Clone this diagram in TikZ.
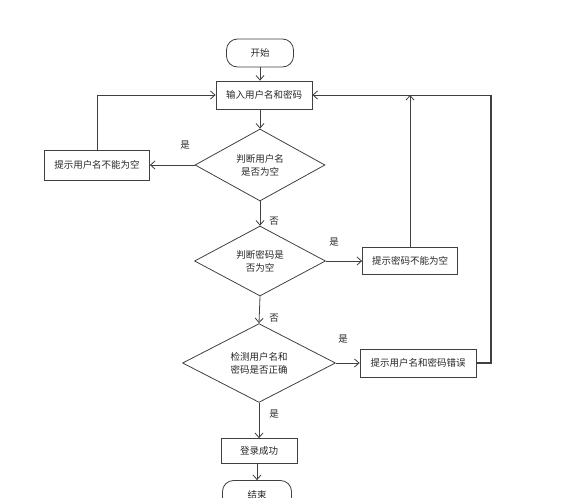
\documentclass[tikz,border=0pt]{standalone}
\usepackage{fontspec}
\setmainfont{Noto Sans CJK SC}
\usetikzlibrary{shapes.geometric,arrows.meta}
\begin{document}
\begin{tikzpicture}[x=1pt,y=-1pt,
  every node/.style={font=\fontsize{9.5}{13}\selectfont, text=black!85},
  box/.style={draw=black!75, line width=0.8pt, inner sep=0pt, align=center},
  term/.style={box, rounded corners=11pt},
  dia/.style={box, diamond},
  lbl/.style={inner sep=0pt},
  ln/.style={draw=black!75, line width=0.8pt},
  arr/.style={ln, -{Straight Barb[length=4.5pt,width=8pt]}}]
\useasboundingbox (0,0) rectangle (574,498);
\clip (0,0) rectangle (574,498);
\node[term, minimum width=67pt, minimum height=28pt] (start) at (260,53) {开始};
\node[box, minimum width=96pt, minimum height=28pt] (input) at (264,95) {输入用户名和密码};
\node[dia, minimum width=130pt, minimum height=72pt] (d1) at (260,165) {判断用户名\\是否为空};
\node[box, minimum width=105pt, minimum height=30pt] (e1) at (97,165) {提示用户名不能为空};
\node[dia, minimum width=131pt, minimum height=70pt] (d2) at (260,261) {判断密码是\\否为空};
\node[box, minimum width=95pt, minimum height=27pt] (e2) at (410,261) {提示密码不能为空};
\node[dia, minimum width=153pt, minimum height=71pt] (d3) at (259,363) {检测用户名和\\密码是否正确};
\node[box, minimum width=116pt, minimum height=28pt] (e3) at (418,363) {提示用户名和密码错误};
\node[box, minimum width=76pt, minimum height=25pt] (ok) at (259,451) {登录成功};
\node[term, minimum width=69pt, minimum height=29pt] (end) at (257,495) {结束};
\node[lbl] (l1) at (185,145) {是};
\node[lbl] (l2) at (274,221) {否};
\node[lbl] (l3) at (334,242) {是};
\node[lbl] (l4) at (274,318) {否};
\node[lbl] (l5) at (343,339) {是};
\node[lbl] (l6) at (274,414) {是};
\coordinate (r) at (491,95);
\draw[arr] (start) -- (start |- input.north);
\draw[arr] (d1.north |- input.south) -- (d1.north);
\draw[arr] (d1.west) -- (e1.east);
\draw[arr] (e1.north) |- (input.west);
\draw[arr] (d1.south) -- (d2.north);
\draw[arr] (d2.east) -- (e2.west);
\draw[arr] (e2.north) -- (e2.north |- input.east);
\draw[ln, line width=1.3pt] (e3.east) -| (r);
\draw[arr] (r) -- (input.east);
\draw[arr] (d2.south) -- (d3.north);
\draw[arr] (d3.east) -- (e3.west);
\draw[arr] (d3.south) -- (ok.north);
\draw[arr] (end.north |- ok.south) -- (end.north);
\end{tikzpicture}
\end{document}
